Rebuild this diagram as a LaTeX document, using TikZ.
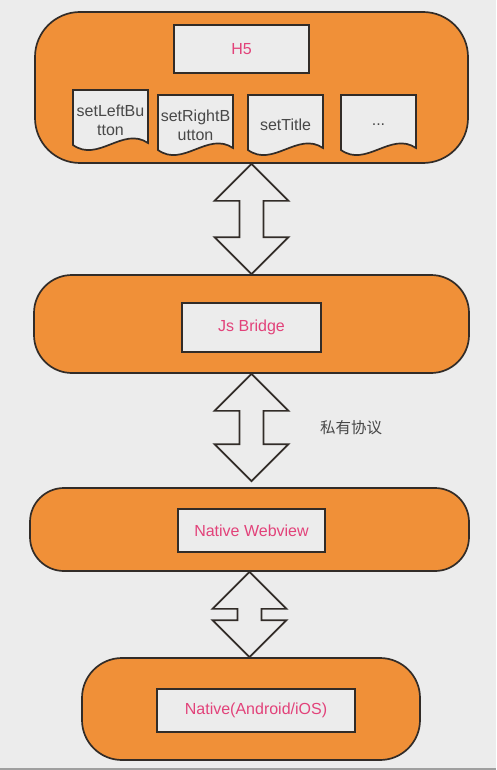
\documentclass[tikz,border=0pt]{standalone}
\usepackage{fontspec}
\setmainfont{Liberation Sans}
\newfontfamily\cjk{Noto Sans CJK SC}
\usetikzlibrary{calc}
\definecolor{paper}{RGB}{236,236,236}
\definecolor{tangerine}{RGB}{240,144,56}
\definecolor{ink}{RGB}{50,44,40}
\definecolor{rose}{RGB}{226,66,122}
\definecolor{slate}{RGB}{72,72,72}

\begin{document}
\begin{tikzpicture}[x=1pt,y=-1pt,
    pill/.style={draw=ink,line width=1.7pt,fill=tangerine},
    labelbox/.style={draw=ink,line width=1.7pt,fill=paper,text=rose,font=\fontsize{16}{19}\selectfont},
    sheet/.style={draw=ink,line width=1.7pt,fill=paper},
    pipe/.style={draw=ink,line width=1.7pt,fill=paper,line join=miter}]
  \fill[paper] (0,0) rectangle (496,770);
  \useasboundingbox (0,0) rectangle (496,770);
  \draw[gray!75,line width=2pt] (0,769) -- (496,769);

  % layers
  \node[pill,rounded corners=45pt,minimum width=433pt,minimum height=151pt] (webapp) at (251.5,87.5) {};
  \node[pill,rounded corners=38pt,minimum width=435pt,minimum height=98pt] (bridge) at (251.5,324) {};
  \node[pill,rounded corners=34pt,minimum width=439pt,minimum height=83pt] (webview) at (249.5,529.5) {};
  \node[pill,rounded corners=40pt,minimum width=338pt,minimum height=102pt] (native) at (251,709) {};

  \node[labelbox,minimum width=135pt,minimum height=48pt] (h5) at (241.5,49) {H5};
  \node[labelbox,minimum width=139pt,minimum height=49pt] (jsb) at (251.5,327.5) {Js Bridge};
  \node[labelbox,minimum width=147pt,minimum height=43pt] (wv) at (251.5,530.5) {Native Webview};
  \node[labelbox,minimum width=198pt,minimum height=43pt] (os) at (256,710.5) {Native(Android/iOS)};

  % api sheets
  \foreach \x/\t/\txt [count=\i] in {73/90/{setLeftBu\\tton},158/95/{setRightB\\utton},248/95/setTitle,341/95/{...}}{
    \draw[sheet] (\x,\t) -- (\x+75,\t) -- (\x+75,\t+53) .. controls (\x+50,\t+36) and (\x+25,\t+73) .. (\x,\t+55) -- cycle;
    \node[align=center,inner sep=0pt,text=slate,font=\fontsize{16}{19}\selectfont] (doc\i) at (\x+37.5,\t+30) {\txt};
  }

  % double arrows
  \foreach \a/\b/\g in {webapp/bridge/0,bridge/webview/6,webview/native/0}{
    \draw[pipe] (\a.south) -- ++(37,37) -- ++(-25,0) -- ($(\a.south|-\b.north)+(12,-37-\g)$) -- ++(25,0)
      -- ($(\a.south|-\b.north)+(0,-\g)$) -- ++(-37,-37) -- ++(25,0) -- ($(\a.south)+(-12,37)$) -- ++(-25,0) -- cycle;
  }
  \node[text=slate,font=\cjk\fontsize{15.5}{18}\selectfont] (proto) at (351,428) {私有协议};
\end{tikzpicture}
\end{document}
